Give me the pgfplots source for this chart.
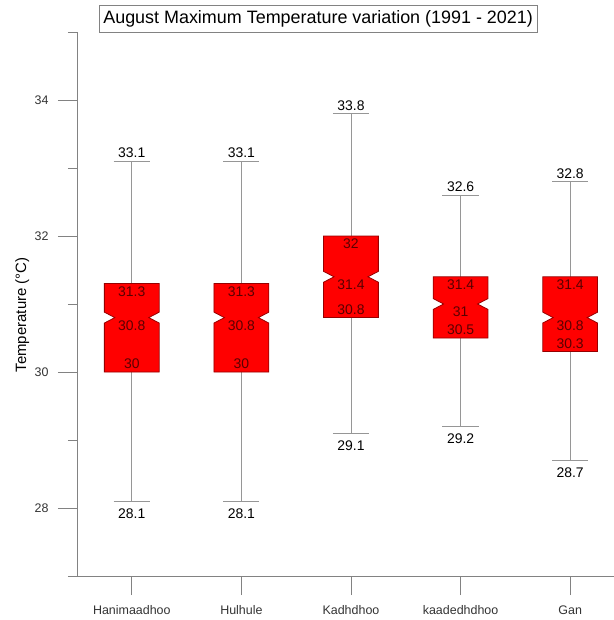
\documentclass[border=0pt]{standalone}
\usepackage{fontspec}
\setmainfont{Liberation Sans}
\usepackage{pgfplots}
\pgfplotsset{compat=1.18}
\usepgfplotslibrary{statistics}

\definecolor{boxred}{RGB}{255,0,0}
\definecolor{boxedge}{RGB}{150,0,0}
\definecolor{inlab}{RGB}{90,0,0}
\definecolor{whisk}{RGB}{150,150,150}
\definecolor{axisgray}{RGB}{130,130,130}

\pgfkeys{/pgf/number format/assume math mode=true}
\newcommand\labfont{\fontsize{14}{16}\selectfont}

% notched box with value labels, drawn from the boxplot prepared values
\pgfplotsset{
  notched/.style={
    boxplot/draw direction=y,
    boxplot/box extend=0.5,
    boxplot/whisker extend=0.33,
    boxplot/every whisker/.style={draw=whisk, line width=0.8pt},
    boxplot/draw/median/.code={},
    boxplot/draw/box/.code={%
      \pgfmathsetmacro\nlo{\pgfplotsboxplotvalue{median}-0.08}%
      \pgfmathsetmacro\nhi{\pgfplotsboxplotvalue{median}+0.08}%
      \filldraw[fill=boxred, draw=boxedge, line width=0.8pt]
        (boxplot box cs:\pgfplotsboxplotvalue{lower quartile},0)
        -- (boxplot box cs:\nlo,0)
        -- (boxplot box cs:\pgfplotsboxplotvalue{median},0.19)
        -- (boxplot box cs:\nhi,0)
        -- (boxplot box cs:\pgfplotsboxplotvalue{upper quartile},0)
        -- (boxplot box cs:\pgfplotsboxplotvalue{upper quartile},1)
        -- (boxplot box cs:\nhi,1)
        -- (boxplot box cs:\pgfplotsboxplotvalue{median},0.81)
        -- (boxplot box cs:\nlo,1)
        -- (boxplot box cs:\pgfplotsboxplotvalue{lower quartile},1)
        -- cycle;
      \node[anchor=north, inner sep=3bp, text=inlab, font=\labfont]
        at (boxplot box cs:\pgfplotsboxplotvalue{upper quartile},0.5)
        {\pgfmathprintnumber{\pgfplotsboxplotvalue{upper quartile}}};
      \node[anchor=north, inner sep=2.5bp, text=inlab, font=\labfont]
        at (boxplot box cs:\pgfplotsboxplotvalue{median},0.5)
        {\pgfmathprintnumber{\pgfplotsboxplotvalue{median}}};
      \node[anchor=south, inner sep=3bp, text=inlab, font=\labfont]
        at (boxplot box cs:\pgfplotsboxplotvalue{lower quartile},0.5)
        {\pgfmathprintnumber{\pgfplotsboxplotvalue{lower quartile}}};
      \node[anchor=south, inner sep=3bp, font=\labfont]
        at (boxplot box cs:\pgfplotsboxplotvalue{upper whisker},0.5)
        {\pgfmathprintnumber{\pgfplotsboxplotvalue{upper whisker}}};
      \node[anchor=north, inner sep=7.5bp, font=\labfont]
        at (boxplot box cs:\pgfplotsboxplotvalue{lower whisker},0.5)
        {\pgfmathprintnumber{\pgfplotsboxplotvalue{lower whisker}}};
    },
  }
}

\begin{document}
\begin{tikzpicture}[font=\fontsize{12.5}{14}\selectfont]
\useasboundingbox (-77bp,-44bp) rectangle (537bp,576bp);
\begin{axis}[
  scale only axis,
  width=537bp, height=544bp,
  xmin=0.5, xmax=5.4,
  ymin=27, ymax=35,
  axis lines=left,
  axis line style={draw=axisgray, line width=0.8pt, -},
  tick style={draw=axisgray, line width=0.8pt},
  tick align=outside,
  major tick length=19bp,
  minor tick length=9bp,
  xtick={1,2,3,4,5},
  xticklabels={Hanimaadhoo, Hulhule, Kadhdhoo, kaadedhdhoo, Gan},
  xticklabel style={yshift=-7bp},
  ytick={28,30,32,34},
  minor ytick={27,29,31,33,35},
  yticklabel style={xshift=-6bp},
  ticklabel style={text=black!80},
  ylabel={Temperature (°C)},
  ylabel style={at={(axis description cs:-0.102,0.48)}, anchor=center,
    font=\fontsize{15}{17}\selectfont},
  title={August Maximum Temperature variation (1991 - 2021)},
  title style={at={(rel axis cs:0.449,1.024)}, anchor=center, yshift=-6bp,
    draw=axisgray, line width=0.6pt, minimum height=27bp, inner xsep=4bp,
    font=\fontsize{18}{20}\selectfont},
  clip=false,
]
\addplot[draw=whisk, notched, boxplot prepared={
  lower whisker=28.1, lower quartile=30, median=30.8,
  upper quartile=31.3, upper whisker=33.1, draw position=1}] coordinates {};
\addplot[draw=whisk, notched, boxplot prepared={
  lower whisker=28.1, lower quartile=30, median=30.8,
  upper quartile=31.3, upper whisker=33.1, draw position=2}] coordinates {};
\addplot[draw=whisk, notched, boxplot prepared={
  lower whisker=29.1, lower quartile=30.8, median=31.4,
  upper quartile=32, upper whisker=33.8, draw position=3}] coordinates {};
\addplot[draw=whisk, notched, boxplot prepared={
  lower whisker=29.2, lower quartile=30.5, median=31,
  upper quartile=31.4, upper whisker=32.6, draw position=4}] coordinates {};
\addplot[draw=whisk, notched, boxplot prepared={
  lower whisker=28.7, lower quartile=30.3, median=30.8,
  upper quartile=31.4, upper whisker=32.8, draw position=5}] coordinates {};
\end{axis}
\end{tikzpicture}
\end{document}
